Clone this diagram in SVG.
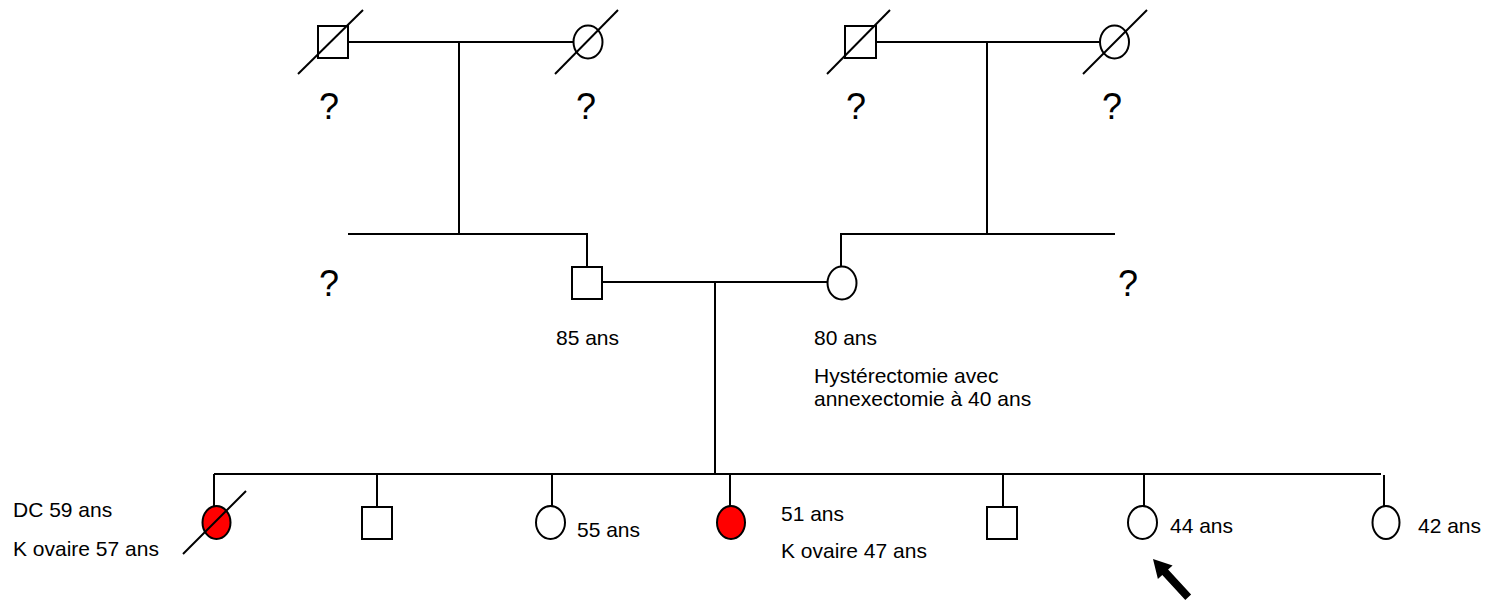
<svg xmlns="http://www.w3.org/2000/svg" width="1494" height="606" viewBox="0 0 1494 606">
<style>
.ln{stroke:#000;stroke-width:2;fill:none}
.sym{stroke:#000;stroke-width:2;fill:#fff}
.aff{fill:#f00}
.t{font-family:"Liberation Sans",Arial,sans-serif;font-size:21px;fill:#000}
.q{font-family:"Liberation Sans",Arial,sans-serif;font-size:36px;fill:#000}
</style>
<rect width="1494" height="606" fill="#fff"/>
<g id="connectors" class="ln">
<line x1="348" y1="42" x2="573" y2="42"/>
<line x1="459" y1="42" x2="459" y2="234"/>
<line x1="876" y1="42" x2="1100" y2="42"/>
<line x1="987" y1="42" x2="987" y2="234"/>
<polyline points="348,234 587,234 587,267"/>
<polyline points="1115,234 841,234 841,267"/>
<line x1="602" y1="282" x2="828" y2="282"/>
<line x1="715" y1="282" x2="715" y2="474"/>
<line x1="214" y1="474" x2="1381" y2="474"/>
<line x1="214" y1="474" x2="214" y2="506"/>
<line x1="377" y1="474" x2="377" y2="507"/>
<line x1="552" y1="474" x2="552" y2="506"/>
<line x1="730" y1="474" x2="730" y2="506"/>
<line x1="1003" y1="474" x2="1003" y2="507"/>
<line x1="1144" y1="474" x2="1144" y2="506"/>
<line x1="1384" y1="475" x2="1384" y2="506"/>
</g>
<g id="gf-paternal">
<rect class="sym" x="318" y="26" width="30" height="32"/>
<line class="ln" x1="298" y1="74" x2="363" y2="10"/>
<text class="q" x="319" y="119">?</text>
</g>
<g id="gm-paternal">
<ellipse class="sym" cx="588" cy="42" rx="14.5" ry="16.5"/>
<line class="ln" x1="555" y1="74" x2="618" y2="10"/>
<text class="q" x="576" y="119">?</text>
</g>
<g id="gf-maternal">
<rect class="sym" x="845" y="26" width="31" height="32"/>
<line class="ln" x1="827" y1="74" x2="890" y2="10"/>
<text class="q" x="846" y="119">?</text>
</g>
<g id="gm-maternal">
<ellipse class="sym" cx="1114.5" cy="42" rx="14.5" ry="16.5"/>
<line class="ln" x1="1083" y1="74" x2="1147" y2="10"/>
<text class="q" x="1102" y="119">?</text>
</g>
<g id="sib-paternal"><text class="q" x="319" y="296">?</text></g>
<g id="sib-maternal"><text class="q" x="1118" y="296">?</text></g>
<g id="father">
<rect class="sym" x="572" y="267" width="30" height="32"/>
<text class="t" x="556" y="345">85 ans</text>
</g>
<g id="mother">
<ellipse class="sym" cx="842" cy="283" rx="14.5" ry="16.5"/>
<text class="t" x="814" y="345">80 ans</text>
<text class="t" x="814" y="383">Hystérectomie avec</text>
<text class="t" x="814" y="406">annexectomie à 40 ans</text>
</g>
<g id="child1">
<ellipse class="sym aff" cx="216.5" cy="522.5" rx="14" ry="16.5"/>
<line class="ln" x1="183" y1="554" x2="246" y2="491"/>
<text class="t" x="13" y="517">DC 59 ans</text>
<text class="t" x="13" y="556">K ovaire 57 ans</text>
</g>
<g id="child2"><rect class="sym" x="362" y="507" width="30" height="32"/></g>
<g id="child3">
<ellipse class="sym" cx="550.5" cy="522.5" rx="14.5" ry="16.5"/>
<text class="t" x="577" y="537">55 ans</text>
</g>
<g id="child4">
<ellipse class="sym aff" cx="731" cy="522.5" rx="14" ry="16.5"/>
<text class="t" x="781" y="521">51 ans</text>
<text class="t" x="781" y="558">K ovaire 47 ans</text>
</g>
<g id="child5"><rect class="sym" x="987" y="507" width="30" height="32"/></g>
<g id="child6">
<ellipse class="sym" cx="1142.5" cy="522.5" rx="14.5" ry="16.5"/>
<text class="t" x="1170" y="533">44 ans</text>
</g>
<g id="child7">
<ellipse class="sym" cx="1386" cy="522.5" rx="13.5" ry="16.5"/>
<text class="t" x="1418" y="533">42 ans</text>
</g>
<g id="proband-arrow">
<polygon fill="#000" points="1153,559 1172.6,565.4 1168.1,569.5 1191.1,594.5 1185.3,599.9 1162.3,574.9 1157.9,579"/>
</g>
</svg>
